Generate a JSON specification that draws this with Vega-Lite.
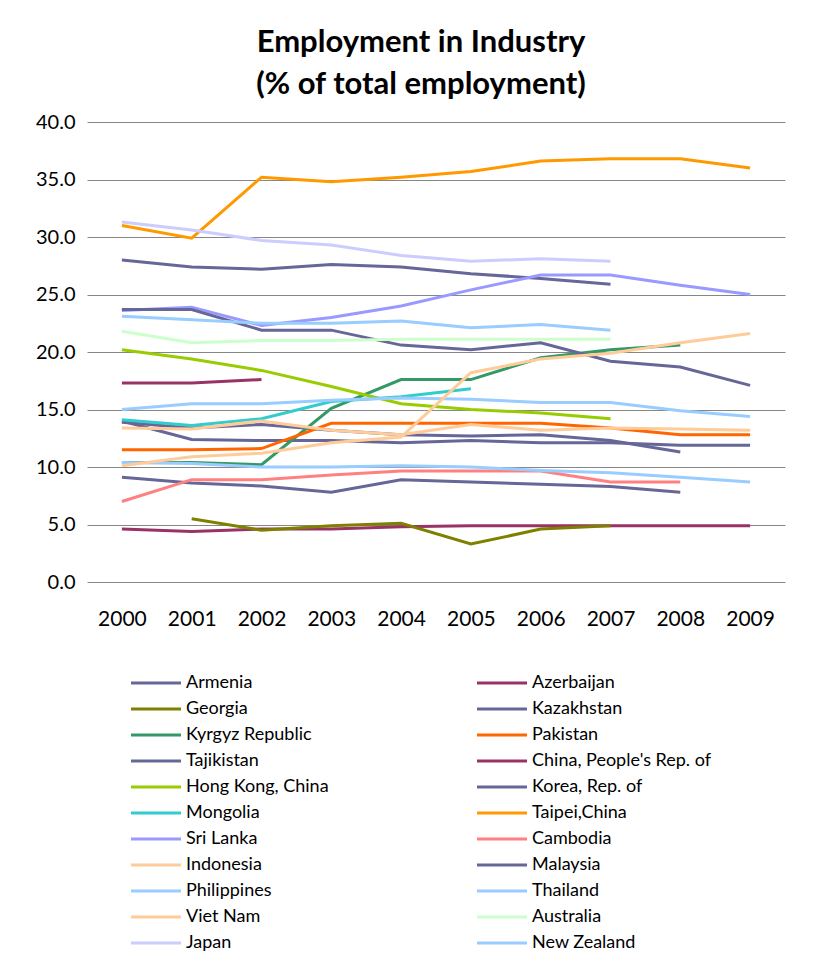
{
  "$schema": "https://vega.github.io/schema/vega-lite/v6.json",
  "width": 698,
  "height": 460,
  "autosize": {"type": "none"},
  "padding": {"left": 87, "top": 122, "right": 42, "bottom": 379},
  "background": "white",
  "title": {
    "text": ["Employment in Industry", "(% of total employment)"],
    "font": "Lato",
    "fontSize": 31,
    "fontWeight": "bold",
    "color": "#000000",
    "lineHeight": 42,
    "anchor": "middle",
    "dx": -15,
    "offset": 11
  },
  "data": {
    "values": [
      {"country": "Armenia", "year": 2000, "value": 13.9},
      {"country": "Armenia", "year": 2001, "value": 13.4},
      {"country": "Armenia", "year": 2002, "value": 13.7},
      {"country": "Armenia", "year": 2003, "value": 13.2},
      {"country": "Armenia", "year": 2004, "value": 12.8},
      {"country": "Armenia", "year": 2005, "value": 12.7},
      {"country": "Armenia", "year": 2006, "value": 12.8},
      {"country": "Armenia", "year": 2007, "value": 12.3},
      {"country": "Armenia", "year": 2008, "value": 11.3},
      {"country": "Azerbaijan", "year": 2000, "value": 4.6},
      {"country": "Azerbaijan", "year": 2001, "value": 4.4},
      {"country": "Azerbaijan", "year": 2002, "value": 4.6},
      {"country": "Azerbaijan", "year": 2003, "value": 4.6},
      {"country": "Azerbaijan", "year": 2004, "value": 4.8},
      {"country": "Azerbaijan", "year": 2005, "value": 4.9},
      {"country": "Azerbaijan", "year": 2006, "value": 4.9},
      {"country": "Azerbaijan", "year": 2007, "value": 4.9},
      {"country": "Azerbaijan", "year": 2008, "value": 4.9},
      {"country": "Azerbaijan", "year": 2009, "value": 4.9},
      {"country": "Georgia", "year": 2001, "value": 5.5},
      {"country": "Georgia", "year": 2002, "value": 4.5},
      {"country": "Georgia", "year": 2003, "value": 4.9},
      {"country": "Georgia", "year": 2004, "value": 5.1},
      {"country": "Georgia", "year": 2005, "value": 3.3},
      {"country": "Georgia", "year": 2006, "value": 4.6},
      {"country": "Georgia", "year": 2007, "value": 4.9},
      {"country": "Kazakhstan", "year": 2000, "value": 14.0},
      {"country": "Kazakhstan", "year": 2001, "value": 12.4},
      {"country": "Kazakhstan", "year": 2002, "value": 12.3},
      {"country": "Kazakhstan", "year": 2003, "value": 12.3},
      {"country": "Kazakhstan", "year": 2004, "value": 12.1},
      {"country": "Kazakhstan", "year": 2005, "value": 12.3},
      {"country": "Kazakhstan", "year": 2006, "value": 12.1},
      {"country": "Kazakhstan", "year": 2007, "value": 12.1},
      {"country": "Kazakhstan", "year": 2008, "value": 11.9},
      {"country": "Kazakhstan", "year": 2009, "value": 11.9},
      {"country": "Kyrgyz Republic", "year": 2000, "value": 10.4},
      {"country": "Kyrgyz Republic", "year": 2001, "value": 10.4},
      {"country": "Kyrgyz Republic", "year": 2002, "value": 10.2},
      {"country": "Kyrgyz Republic", "year": 2003, "value": 15.1},
      {"country": "Kyrgyz Republic", "year": 2004, "value": 17.6},
      {"country": "Kyrgyz Republic", "year": 2005, "value": 17.6},
      {"country": "Kyrgyz Republic", "year": 2006, "value": 19.5},
      {"country": "Kyrgyz Republic", "year": 2007, "value": 20.2},
      {"country": "Kyrgyz Republic", "year": 2008, "value": 20.6},
      {"country": "Pakistan", "year": 2000, "value": 11.5},
      {"country": "Pakistan", "year": 2001, "value": 11.5},
      {"country": "Pakistan", "year": 2002, "value": 11.6},
      {"country": "Pakistan", "year": 2003, "value": 13.8},
      {"country": "Pakistan", "year": 2004, "value": 13.8},
      {"country": "Pakistan", "year": 2005, "value": 13.8},
      {"country": "Pakistan", "year": 2006, "value": 13.8},
      {"country": "Pakistan", "year": 2007, "value": 13.4},
      {"country": "Pakistan", "year": 2008, "value": 12.8},
      {"country": "Pakistan", "year": 2009, "value": 12.8},
      {"country": "Tajikistan", "year": 2000, "value": 9.1},
      {"country": "Tajikistan", "year": 2001, "value": 8.6},
      {"country": "Tajikistan", "year": 2002, "value": 8.35},
      {"country": "Tajikistan", "year": 2003, "value": 7.8},
      {"country": "Tajikistan", "year": 2004, "value": 8.9},
      {"country": "Tajikistan", "year": 2005, "value": 8.7},
      {"country": "Tajikistan", "year": 2006, "value": 8.5},
      {"country": "Tajikistan", "year": 2007, "value": 8.3},
      {"country": "Tajikistan", "year": 2008, "value": 7.8},
      {"country": "China, People's Rep. of", "year": 2000, "value": 17.3},
      {"country": "China, People's Rep. of", "year": 2001, "value": 17.3},
      {"country": "China, People's Rep. of", "year": 2002, "value": 17.6},
      {"country": "Hong Kong, China", "year": 2000, "value": 20.2},
      {"country": "Hong Kong, China", "year": 2001, "value": 19.4},
      {"country": "Hong Kong, China", "year": 2002, "value": 18.4},
      {"country": "Hong Kong, China", "year": 2003, "value": 17.0},
      {"country": "Hong Kong, China", "year": 2004, "value": 15.5},
      {"country": "Hong Kong, China", "year": 2005, "value": 15.0},
      {"country": "Hong Kong, China", "year": 2006, "value": 14.7},
      {"country": "Hong Kong, China", "year": 2007, "value": 14.2},
      {"country": "Korea, Rep. of", "year": 2000, "value": 28.0},
      {"country": "Korea, Rep. of", "year": 2001, "value": 27.4},
      {"country": "Korea, Rep. of", "year": 2002, "value": 27.2},
      {"country": "Korea, Rep. of", "year": 2003, "value": 27.6},
      {"country": "Korea, Rep. of", "year": 2004, "value": 27.4},
      {"country": "Korea, Rep. of", "year": 2005, "value": 26.8},
      {"country": "Korea, Rep. of", "year": 2006, "value": 26.4},
      {"country": "Korea, Rep. of", "year": 2007, "value": 25.9},
      {"country": "Mongolia", "year": 2000, "value": 14.1},
      {"country": "Mongolia", "year": 2001, "value": 13.6},
      {"country": "Mongolia", "year": 2002, "value": 14.2},
      {"country": "Mongolia", "year": 2003, "value": 15.7},
      {"country": "Mongolia", "year": 2004, "value": 16.1},
      {"country": "Mongolia", "year": 2005, "value": 16.8},
      {"country": "Taipei,China", "year": 2000, "value": 31.0},
      {"country": "Taipei,China", "year": 2001, "value": 29.9},
      {"country": "Taipei,China", "year": 2002, "value": 35.2},
      {"country": "Taipei,China", "year": 2003, "value": 34.8},
      {"country": "Taipei,China", "year": 2004, "value": 35.2},
      {"country": "Taipei,China", "year": 2005, "value": 35.7},
      {"country": "Taipei,China", "year": 2006, "value": 36.6},
      {"country": "Taipei,China", "year": 2007, "value": 36.8},
      {"country": "Taipei,China", "year": 2008, "value": 36.8},
      {"country": "Taipei,China", "year": 2009, "value": 36.0},
      {"country": "Sri Lanka", "year": 2000, "value": 23.6},
      {"country": "Sri Lanka", "year": 2001, "value": 23.9},
      {"country": "Sri Lanka", "year": 2002, "value": 22.3},
      {"country": "Sri Lanka", "year": 2003, "value": 23.0},
      {"country": "Sri Lanka", "year": 2004, "value": 24.0},
      {"country": "Sri Lanka", "year": 2005, "value": 25.4},
      {"country": "Sri Lanka", "year": 2006, "value": 26.7},
      {"country": "Sri Lanka", "year": 2007, "value": 26.7},
      {"country": "Sri Lanka", "year": 2008, "value": 25.8},
      {"country": "Sri Lanka", "year": 2009, "value": 25.0},
      {"country": "Cambodia", "year": 2000, "value": 7.0},
      {"country": "Cambodia", "year": 2001, "value": 8.9},
      {"country": "Cambodia", "year": 2002, "value": 8.9},
      {"country": "Cambodia", "year": 2003, "value": 9.3},
      {"country": "Cambodia", "year": 2004, "value": 9.65},
      {"country": "Cambodia", "year": 2005, "value": 9.65},
      {"country": "Cambodia", "year": 2006, "value": 9.65},
      {"country": "Cambodia", "year": 2007, "value": 8.7},
      {"country": "Cambodia", "year": 2008, "value": 8.7},
      {"country": "Indonesia", "year": 2000, "value": 13.4},
      {"country": "Indonesia", "year": 2001, "value": 13.3},
      {"country": "Indonesia", "year": 2002, "value": 14.0},
      {"country": "Indonesia", "year": 2003, "value": 13.2},
      {"country": "Indonesia", "year": 2004, "value": 12.8},
      {"country": "Indonesia", "year": 2005, "value": 13.7},
      {"country": "Indonesia", "year": 2006, "value": 13.2},
      {"country": "Indonesia", "year": 2007, "value": 13.4},
      {"country": "Indonesia", "year": 2008, "value": 13.3},
      {"country": "Indonesia", "year": 2009, "value": 13.2},
      {"country": "Malaysia", "year": 2000, "value": 23.7},
      {"country": "Malaysia", "year": 2001, "value": 23.7},
      {"country": "Malaysia", "year": 2002, "value": 21.9},
      {"country": "Malaysia", "year": 2003, "value": 21.9},
      {"country": "Malaysia", "year": 2004, "value": 20.6},
      {"country": "Malaysia", "year": 2005, "value": 20.2},
      {"country": "Malaysia", "year": 2006, "value": 20.8},
      {"country": "Malaysia", "year": 2007, "value": 19.2},
      {"country": "Malaysia", "year": 2008, "value": 18.7},
      {"country": "Malaysia", "year": 2009, "value": 17.1},
      {"country": "Philippines", "year": 2000, "value": 15.0},
      {"country": "Philippines", "year": 2001, "value": 15.5},
      {"country": "Philippines", "year": 2002, "value": 15.5},
      {"country": "Philippines", "year": 2003, "value": 15.8},
      {"country": "Philippines", "year": 2004, "value": 16.0},
      {"country": "Philippines", "year": 2005, "value": 15.9},
      {"country": "Philippines", "year": 2006, "value": 15.6},
      {"country": "Philippines", "year": 2007, "value": 15.6},
      {"country": "Philippines", "year": 2008, "value": 14.9},
      {"country": "Philippines", "year": 2009, "value": 14.4},
      {"country": "Thailand", "year": 2000, "value": 10.4},
      {"country": "Thailand", "year": 2001, "value": 10.3},
      {"country": "Thailand", "year": 2002, "value": 10.0},
      {"country": "Thailand", "year": 2003, "value": 10.0},
      {"country": "Thailand", "year": 2004, "value": 10.1},
      {"country": "Thailand", "year": 2005, "value": 10.0},
      {"country": "Thailand", "year": 2006, "value": 9.7},
      {"country": "Thailand", "year": 2007, "value": 9.5},
      {"country": "Thailand", "year": 2008, "value": 9.1},
      {"country": "Thailand", "year": 2009, "value": 8.7},
      {"country": "Viet Nam", "year": 2000, "value": 10.1},
      {"country": "Viet Nam", "year": 2001, "value": 10.9},
      {"country": "Viet Nam", "year": 2002, "value": 11.2},
      {"country": "Viet Nam", "year": 2003, "value": 12.1},
      {"country": "Viet Nam", "year": 2004, "value": 12.6},
      {"country": "Viet Nam", "year": 2005, "value": 18.2},
      {"country": "Viet Nam", "year": 2006, "value": 19.4},
      {"country": "Viet Nam", "year": 2007, "value": 19.9},
      {"country": "Viet Nam", "year": 2008, "value": 20.8},
      {"country": "Viet Nam", "year": 2009, "value": 21.6},
      {"country": "Australia", "year": 2000, "value": 21.8},
      {"country": "Australia", "year": 2001, "value": 20.8},
      {"country": "Australia", "year": 2002, "value": 21.0},
      {"country": "Australia", "year": 2003, "value": 21.0},
      {"country": "Australia", "year": 2004, "value": 21.1},
      {"country": "Australia", "year": 2005, "value": 21.1},
      {"country": "Australia", "year": 2006, "value": 21.1},
      {"country": "Australia", "year": 2007, "value": 21.1},
      {"country": "Japan", "year": 2000, "value": 31.3},
      {"country": "Japan", "year": 2001, "value": 30.6},
      {"country": "Japan", "year": 2002, "value": 29.7},
      {"country": "Japan", "year": 2003, "value": 29.3},
      {"country": "Japan", "year": 2004, "value": 28.4},
      {"country": "Japan", "year": 2005, "value": 27.9},
      {"country": "Japan", "year": 2006, "value": 28.1},
      {"country": "Japan", "year": 2007, "value": 27.9},
      {"country": "New Zealand", "year": 2000, "value": 23.1},
      {"country": "New Zealand", "year": 2001, "value": 22.8},
      {"country": "New Zealand", "year": 2002, "value": 22.5},
      {"country": "New Zealand", "year": 2003, "value": 22.5},
      {"country": "New Zealand", "year": 2004, "value": 22.7},
      {"country": "New Zealand", "year": 2005, "value": 22.1},
      {"country": "New Zealand", "year": 2006, "value": 22.4},
      {"country": "New Zealand", "year": 2007, "value": 21.9}
    ]
  },
  "mark": {"type": "line", "strokeWidth": 3, "strokeJoin": "miter", "strokeCap": "butt"},
  "encoding": {
    "x": {
      "field": "year",
      "type": "ordinal",
      "scale": {"type": "point", "padding": 0.5},
      "axis": {
        "title": null,
        "labelAngle": 0,
        "ticks": false,
        "domain": false,
        "grid": false,
        "labelFont": "Lato",
        "labelFontSize": 21,
        "labelColor": "#000000",
        "labelPadding": 26
      }
    },
    "y": {
      "field": "value",
      "type": "quantitative",
      "scale": {"domain": [0, 40], "nice": false, "zero": true},
      "axis": {
        "title": null,
        "values": [0, 5, 10, 15, 20, 25, 30, 35, 40],
        "format": ".1f",
        "ticks": false,
        "domain": false,
        "grid": true,
        "gridColor": "#868686",
        "gridWidth": 1,
        "gridOpacity": 1,
        "labelFont": "Lato",
        "labelFontSize": 20,
        "labelColor": "#000000",
        "labelPadding": 12
      }
    },
    "color": {
      "field": "country",
      "type": "nominal",
      "sort": null,
      "scale": {
        "domain": ["Armenia", "Azerbaijan", "Georgia", "Kazakhstan", "Kyrgyz Republic", "Pakistan", "Tajikistan", "China, People's Rep. of", "Hong Kong, China", "Korea, Rep. of", "Mongolia", "Taipei,China", "Sri Lanka", "Cambodia", "Indonesia", "Malaysia", "Philippines", "Thailand", "Viet Nam", "Australia", "Japan", "New Zealand"],
        "range": ["#666699", "#993366", "#808000", "#666699", "#339966", "#ff6600", "#666699", "#993366", "#99cc00", "#666699", "#33cccc", "#ff9900", "#9999ff", "#ff8080", "#ffcc99", "#666699", "#99ccff", "#99ccff", "#ffcc99", "#ccffcc", "#ccccff", "#99ccff"]
      },
      "legend": {
        "title": null,
        "orient": "none",
        "legendX": 55,
        "legendY": 547,
        "columns": 2,
        "direction": "horizontal",
        "symbolType": "M-2,0L2,0",
        "symbolSize": 625,
        "symbolStrokeWidth": 3,
        "labelFont": "Lato",
        "labelFontSize": 18,
        "labelColor": "#000000",
        "labelOffset": 16,
        "columnPadding": 142,
        "rowPadding": 3,
        "padding": 0,
        "labelLimit": 300
      }
    }
  },
  "config": {
    "view": {"stroke": null}
  }
}
